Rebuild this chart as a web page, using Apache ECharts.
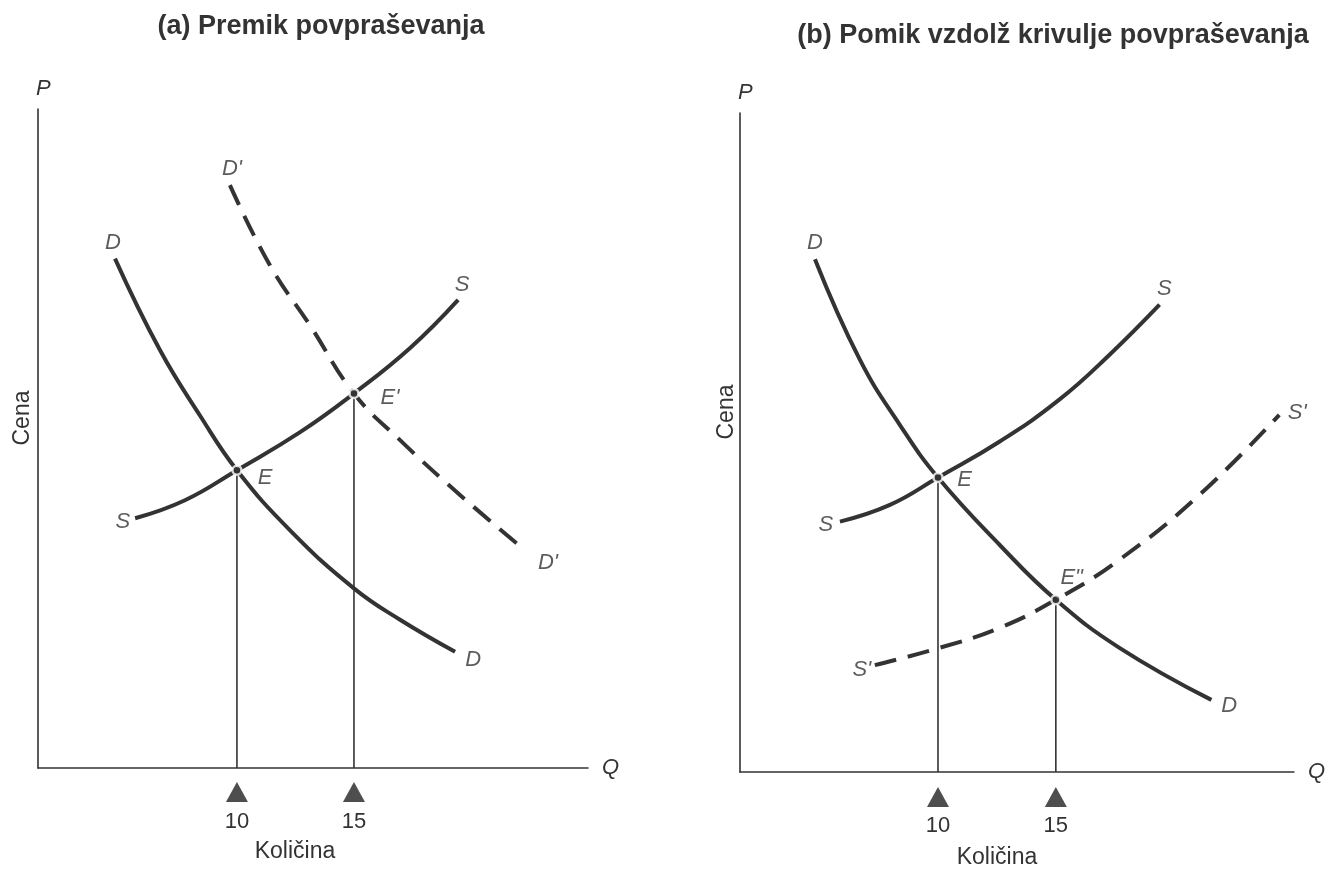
<!DOCTYPE html>
<html>
<head>
<meta charset="utf-8">
<script src="https://cdn.jsdelivr.net/npm/echarts@6/dist/echarts.min.js"></script>
<style>
html,body{margin:0;padding:0;background:#fff;}
#chart{width:1328px;height:871px;}
</style>
</head>
<body>
<div id="chart"></div>
<script>
// ---- Data (Q = quantity, P = price, diagram units) ----
const titles = ['(a) Premik povpraševanja', '(b) Pomik vzdolž krivulje povpraševanja'];
const tickValues = [10, 15];

// Panel (a)
const demandA = [[4.79,76.3],[6.71,62.6],[8.42,52.8],[10,44.6],[12.27,35.6],[15,26.9],[16.97,22.2],[19.32,17.4]];
const supplyA = [[5.65,37.4],[7.78,40.1],[10,44.6],[12.7,50.3],[15,56.1],[17.4,62.9],[19.45,70.1]];
const demandShiftA = [[9.7,87.3],[11.41,75.3],[13.12,66.3],[15,56.1],[16.97,49.1],[19.53,40.9],[22.31,32.6]];
const equilibriaA = [[10,44.6],[15,56.1]];
const labelsA = [["D'",9.79,89.8],['D',4.7,78.7],['S',19.62,72.3],["E'",16.54,55.4],['E',11.2,43.4],['S',5.13,36.8],["D'",23.29,30.7],['D',20.09,16.2]];

// Panel (b)
const demandB = [[4.78,76.8],[6.68,61.8],[8.38,52.0],[10,44.1],[12.62,34.0],[15,25.8],[17.7,18.6],[21.6,10.8]];
const supplyB = [[5.84,37.5],[7.96,40.0],[10,44.1],[12.62,49.5],[15.16,55.8],[17.28,62.5],[19.4,70.0]];
const supplyShiftB = [[7.32,16.0],[10.07,18.6],[12.62,21.6],[15,25.8],[17.7,31.8],[21.09,41.5],[24.48,53.5]];
const equilibriaB = [[10,44.1],[15,25.8]];
const labelsB = [['D',4.78,79.3],['S',19.6,72.3],["S'",25.24,53.8],['E',11.13,43.8],['S',5.24,37.0],['E"',15.67,29.1],["S'",6.77,15.3],['D',22.36,9.9]];

const INK = '#333333';
const FONT = '"Liberation Sans", Arial, sans-serif';

function curve(data, idx, dashed) {
  return {
    type: 'line', xAxisIndex: idx, yAxisIndex: idx, data: data, smooth: 0.45,
    showSymbol: false, silent: true,
    lineStyle: { color: INK, width: 4, type: dashed ? [22, 12] : 'solid', cap: 'butt' },
    z: 3
  };
}
function dropLines(points, idx) {
  return points.map(p => ({
    type: 'line', xAxisIndex: idx, yAxisIndex: idx, data: [[p[0], p[1]], [p[0], 0]],
    showSymbol: false, silent: true, lineStyle: { color: INK, width: 1.6 }, z: 2
  }));
}
function dots(points, idx) {
  return {
    type: 'scatter', xAxisIndex: idx, yAxisIndex: idx, data: points, symbolSize: 9,
    itemStyle: { color: INK, borderColor: '#fff', borderWidth: 2.5 }, z: 5, silent: true
  };
}
function texts(labels, idx) {
  return {
    type: 'scatter', xAxisIndex: idx, yAxisIndex: idx, clip: false, silent: true,
    data: labels.map(l => ({ value: [l[1], l[2]], name: l[0] })),
    symbolSize: 0,
    label: { show: true, position: 'inside', formatter: p => p.name,
      fontFamily: FONT, fontStyle: 'italic', fontSize: 22, color: INK,
      textBorderWidth: 0, textBorderColor: 'transparent' },
    z: 6
  };
}
function triangles(idx, pBelow) {
  return {
    type: 'scatter', xAxisIndex: idx, yAxisIndex: idx, clip: false, silent: true,
    data: tickValues.map(v => [v, pBelow]), symbol: 'triangle', symbolSize: [22, 20],
    itemStyle: { color: '#222' }, z: 5
  };
}
function xAxis(idx, min, max, margin) {
  return {
    type: 'value', gridIndex: idx, min: min, max: max,
    splitLine: { show: false }, axisTick: { show: false },
    axisLine: { show: true, onZero: false, lineStyle: { color: INK, width: 1.6 } },
    axisLabel: { show: true, customValues: tickValues, margin: margin,
      fontFamily: FONT, fontSize: 22, color: INK },
    name: 'Q', nameLocation: 'end', nameGap: 14,
    nameTextStyle: { fontFamily: FONT, fontStyle: 'italic', fontSize: 22, color: INK }
  };
}
function yAxis(idx) {
  return {
    type: 'value', gridIndex: idx, min: 0, max: 98.7,
    splitLine: { show: false }, axisTick: { show: false }, axisLabel: { show: false },
    axisLine: { show: true, onZero: false, lineStyle: { color: INK, width: 1.6 } },
    name: 'P', nameLocation: 'end', nameGap: 9,
    nameTextStyle: { fontFamily: FONT, fontStyle: 'italic', fontSize: 22, color: INK, align: 'left', padding: [0,0,0,-2] }
  };
}
function plainText(str, x, y, rot) {
  return { type: 'text', x: x, y: y, rotation: rot || 0,
    style: { text: str, fontFamily: FONT, fontSize: 23, fill: INK, align: 'center', verticalAlign: 'middle' } };
}

const chart = echarts.init(document.getElementById('chart'), null, { renderer: 'canvas' });
chart.setOption({
  backgroundColor: '#fff',
  animation: false,
  title: [
    { text: titles[0], left: 316, top: 8, textAlign: 'center',
      textStyle: { fontFamily: FONT, fontWeight: 'bold', fontSize: 27, color: INK } },
    { text: titles[1], left: 1048, top: 17, textAlign: 'center',
      textStyle: { fontFamily: FONT, fontWeight: 'bold', fontSize: 27, color: INK } }
  ],
  grid: [
    { left: 38, top: 109, width: 550, height: 659 },
    { left: 740, top: 113, width: 555, height: 659 }
  ],
  xAxis: [xAxis(0, 1.5, 25, 43), xAxis(1, 1.6, 25.1, 43)],
  yAxis: [yAxis(0), yAxis(1)],
  graphic: [
    plainText('Cena', 23, 418, Math.PI / 2),
    plainText('Cena', 727, 412, Math.PI / 2),
    plainText('Količina', 295, 852),
    plainText('Količina', 997, 858)
  ],
  series: [
    curve(demandA, 0, false), curve(supplyA, 0, false), curve(demandShiftA, 0, true),
    ...dropLines(equilibriaA, 0), dots(equilibriaA, 0), texts(labelsA, 0), triangles(0, -3.6),
    curve(demandB, 1, false), curve(supplyB, 1, false), curve(supplyShiftB, 1, true),
    ...dropLines(equilibriaB, 1), dots(equilibriaB, 1), texts(labelsB, 1), triangles(1, -3.75)
  ]
});
</script>
</body>
</html>
